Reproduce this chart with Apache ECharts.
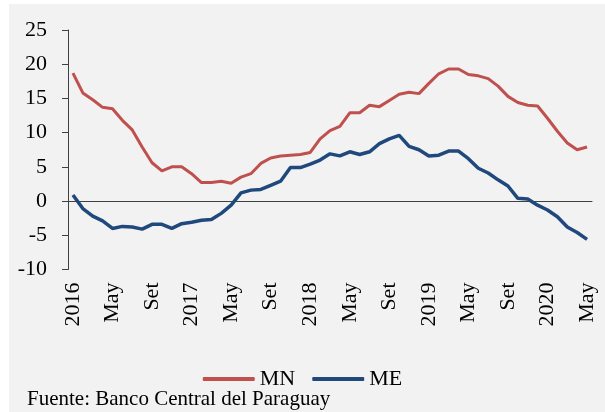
<!DOCTYPE html>
<html>
<head>
<meta charset="utf-8">
<script src="https://cdn.jsdelivr.net/npm/echarts@6/dist/echarts.min.js"></script>
<style>
  html, body { margin: 0; padding: 0; background: #fff; }
  #chart { width: 605px; height: 412px; }
</style>
</head>
<body>
<div id="chart"></div>
<script>
// etiquetas del eje (una cada 4 meses)
var tickLabels = ['2016', 'May', 'Set', '2017', 'May', 'Set', '2018', 'May', 'Set', '2019', 'May', 'Set', '2020', 'May'];

// meses ene-2016 .. may-2020
var months = [];
for (var y = 2016; y <= 2020; y++) {
  for (var m = 1; m <= 12; m++) {
    if (y === 2020 && m > 5) break;
    months.push(y + '-' + (m < 10 ? '0' + m : m));
  }
}

// moneda nacional
var mn = [18.7, 15.8, 14.8, 13.7, 13.5, 11.8, 10.4, 7.9, 5.6, 4.4, 5.0, 5.0, 4.0,
  2.7, 2.7, 2.9, 2.6, 3.5, 4.0, 5.5, 6.3, 6.6, 6.7, 6.8, 7.1, 9.1, 10.3, 10.9,
  12.9, 12.9, 14.0, 13.8, 14.7, 15.6, 15.9, 15.7, 17.2, 18.6, 19.3, 19.3, 18.5,
  18.3, 17.9, 16.8, 15.3, 14.4, 14.0, 13.9, 12.1, 10.2, 8.5, 7.5, 7.9];

// moneda extranjera
var me = [0.9, -1.1, -2.2, -2.9, -4.0, -3.7, -3.8, -4.1, -3.4, -3.4, -4.0, -3.3, -3.1,
  -2.8, -2.7, -1.8, -0.6, 1.2, 1.6, 1.7, 2.3, 2.9, 4.9, 4.9, 5.4, 6.0, 6.9, 6.6,
  7.2, 6.8, 7.2, 8.4, 9.1, 9.6, 8.0, 7.5, 6.6, 6.7, 7.3, 7.3, 6.2, 4.8, 4.1,
  3.1, 2.2, 0.4, 0.3, -0.6, -1.3, -2.3, -3.8, -4.6, -5.6];

var font = 'Liberation Serif';
var chart = echarts.init(document.getElementById('chart'));

chart.setOption({
  backgroundColor: '#f2f2f2',
  animation: false,
  textStyle: { fontFamily: font },
  grid: { left: 68, right: 13, top: 30, bottom: 142.5 },
  legend: {
    bottom: 17,
    left: 'center',
    itemWidth: 52,
    itemHeight: 4,
    itemGap: 17,
    icon: 'roundRect',
    textStyle: { fontFamily: font, fontSize: 22, color: '#000' },
    data: ['MN', 'ME']
  },
  xAxis: [
    {
      type: 'category',
      data: months,
      boundaryGap: true,
      axisLine: { onZero: true, lineStyle: { color: '#404040', width: 1 } },
      axisTick: { interval: 4, length: 6, lineStyle: { color: '#404040' } },
      axisLabel: { show: false },
      splitLine: { show: false }
    },
    {
      type: 'category',
      data: months,
      position: 'bottom',
      boundaryGap: true,
      axisLine: { show: false, onZero: false },
      axisTick: { show: false },
      splitLine: { show: false },
      axisLabel: {
        interval: 3,
        rotate: 90,
        margin: 13,
        fontFamily: font,
        fontSize: 22,
        color: '#000',
        formatter: function (v, i) { return tickLabels[i / 4] || ''; }
      }
    }
  ],
  yAxis: {
    type: 'value',
    min: -10,
    max: 25,
    interval: 5,
    axisLine: { show: true, lineStyle: { color: '#404040' } },
    axisTick: { show: true, length: 6, lineStyle: { color: '#404040' } },
    splitLine: { show: false },
    axisLabel: { margin: 21, fontFamily: font, fontSize: 22, color: '#000' }
  },
  graphic: [
    { type: 'rect', left: 0, top: 0, shape: { width: 9, height: 412 }, style: { fill: '#fff' } },
    { type: 'rect', left: 0, top: 0, shape: { width: 605, height: 4 }, style: { fill: '#fff' } },
    {
      type: 'text', left: 27, top: 389,
      style: { text: 'Fuente: Banco Central del Paraguay', font: '21px "Liberation Serif"', fill: '#000' }
    }
  ],
  series: [
    {
      name: 'MN', type: 'line', data: mn, symbol: 'none',
      itemStyle: { color: '#c0504d' },
      lineStyle: { color: '#c0504d', width: 3 }
    },
    {
      name: 'ME', type: 'line', data: me, symbol: 'none',
      itemStyle: { color: '#1f497d' },
      lineStyle: { color: '#1f497d', width: 3.5 }
    }
  ]
});
</script>
</body>
</html>
